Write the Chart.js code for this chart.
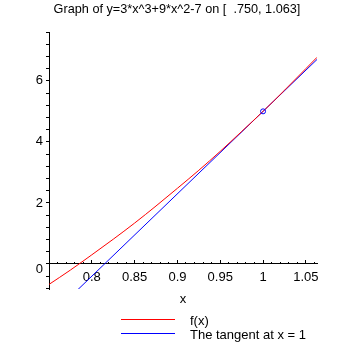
<!DOCTYPE html>
<html>
<head>
<meta charset="utf-8">
<script src="https://cdn.jsdelivr.net/npm/chart.js@4"></script>
<style>
  body { margin: 0; background: #fff; }
  canvas { display: block; }
</style>
</head>
<body>
<canvas id="graphChart" width="355" height="355"></canvas>
<script>
// Values
const curveX = [0.75, 0.775, 0.8, 0.825, 0.85, 0.875, 0.9, 0.925, 0.95, 0.975, 1.0, 1.025, 1.05, 1.063];
const curveY = [-0.67, -0.20, 0.30, 0.81, 1.34, 1.90, 2.48, 3.07, 3.69, 4.34, 5.00, 5.69, 6.40, 6.77];
const tangentX = [0.75, 1.0, 1.063];
const tangentY = [-1.75, 5.00, 6.70];
const pointX = [1.0];
const pointY = [5.0];

const xTickValues = [0.8, 0.85, 0.9, 0.95, 1, 1.05];
const xTickLabels = ['0.8', '0.85', '0.9', '0.95', '1', '1.05'];
const yLabelValues = [0, 2, 4, 6];
const yLabels = ['0', '2', '4', '6'];

const titleText = 'Graph of y=3*x^3+9*x^2-7 on [  .750, 1.063]';
const xAxisLabel = 'x';
const legendLabels = ['f(x)', 'The tangent at x = 1'];
const legendColors = ['#ff0000', '#0000ff'];

const X_MIN = 0.75, X_MAX = 1.063;
const Y_MIN = -0.82, Y_MAX = 7.6;

Chart.defaults.font.family = "'Liberation Sans', Arial, sans-serif";
Chart.defaults.font.size = 13;
Chart.defaults.color = '#000';

// Zip two arrays into {x, y} points
function toPoints(xs, ys) {
    return xs.map((x, i) => ({ x: x, y: ys[i] }));
}

// Title, axis label and legend drawn as text on the canvas
const textPlugin = {
    id: 'textPlugin',
    afterDraw(chart) {
        const ctx = chart.ctx;
        const area = chart.chartArea;
        ctx.save();
        ctx.fillStyle = '#000';
        ctx.textBaseline = 'alphabetic';

        ctx.font = "12.7px 'Liberation Sans', Arial, sans-serif";
        ctx.textAlign = 'center';
        ctx.fillText(titleText, 177, 13);

        ctx.font = "13px 'Liberation Sans', Arial, sans-serif";
        ctx.fillText(xAxisLabel, (area.left + area.right) / 2, 303);

        ctx.textAlign = 'left';
        legendLabels.forEach((label, i) => {
            const y = 319.5 + i * 14;
            ctx.strokeStyle = legendColors[i];
            ctx.lineWidth = 1;
            ctx.beginPath();
            ctx.moveTo(121, y);
            ctx.lineTo(175, y);
            ctx.stroke();
            ctx.fillText(label, 190, y + 5);
        });
        ctx.restore();
    }
};

function initChart() {
    const ctx = document.getElementById('graphChart').getContext('2d');

    new Chart(ctx, {
        type: 'scatter',
        data: {
            datasets: [
                {
                    label: 'point',
                    data: toPoints(pointX, pointY),
                    showLine: false,
                    pointRadius: 2.5,
                    pointBorderWidth: 1,
                    pointBorderColor: '#0000ff',
                    pointBackgroundColor: 'rgba(0,0,0,0)'
                },
                {
                    label: legendLabels[0],
                    data: toPoints(curveX, curveY),
                    showLine: true,
                    borderColor: '#ff0000',
                    borderWidth: 1,
                    pointRadius: 0,
                    cubicInterpolationMode: 'monotone'
                },
                {
                    label: legendLabels[1],
                    data: toPoints(tangentX, tangentY),
                    showLine: true,
                    borderColor: '#0000ff',
                    borderWidth: 1,
                    pointRadius: 0
                }
            ]
        },
        options: {
            responsive: false,
            animation: false,
            layout: {
                padding: { left: 29, right: 38, top: 32, bottom: 66 }
            },
            plugins: {
                legend: { display: false },
                tooltip: { enabled: false }
            },
            scales: {
                x: {
                    type: 'linear',
                    position: { y: 0 },
                    min: X_MIN,
                    max: X_MAX,
                    afterBuildTicks: (scale) => {
                        scale.ticks = xTickValues.map(v => ({ value: v }));
                    },
                    ticks: {
                        padding: 10,
                        maxRotation: 0,
                        autoSkip: false,
                        callback: (value) => {
                            const i = xTickValues.findIndex(v => Math.abs(v - value) < 1e-9);
                            return i >= 0 ? xTickLabels[i] : '';
                        }
                    },
                    grid: {
                        drawOnChartArea: false,
                        tickLength: -4,
                        color: '#000'
                    },
                    border: { color: '#000', width: 1 }
                },
                x2: {
                    type: 'linear',
                    axis: 'x',
                    position: { y: 0 },
                    min: X_MIN,
                    max: X_MAX,
                    afterBuildTicks: (scale) => {
                        const ticks = [];
                        for (let k = 76; k <= 106; k++) ticks.push({ value: k / 100 });
                        scale.ticks = ticks;
                    },
                    ticks: { display: false, autoSkip: false },
                    grid: {
                        drawOnChartArea: false,
                        tickLength: -2,
                        color: '#000'
                    },
                    border: { display: false }
                },
                y: {
                    type: 'linear',
                    position: 'left',
                    min: Y_MIN,
                    max: Y_MAX,
                    afterBuildTicks: (scale) => {
                        const ticks = [];
                        for (let k = -2; k <= 19; k++) ticks.push({ value: Math.round(k * 0.4 * 10) / 10 });
                        scale.ticks = ticks;
                    },
                    afterFit: (scale) => { scale.width = 20; },
                    ticks: {
                        padding: 3,
                        autoSkip: false,
                        font: { lineHeight: 0.9 },
                        callback: (value) => {
                            const i = yLabelValues.findIndex(v => Math.abs(v - value) < 1e-9);
                            if (i < 0) return '';
                            // the 0 label sits just below the x axis, as in the reference
                            return value === 0 ? ['', yLabels[i]] : yLabels[i];
                        }
                    },
                    grid: {
                        drawOnChartArea: false,
                        tickLength: 3,
                        color: '#000'
                    },
                    border: { color: '#000', width: 1 }
                }
            }
        },
        plugins: [textPlugin]
    });
}

document.addEventListener('DOMContentLoaded', initChart);
</script>
</body>
</html>
